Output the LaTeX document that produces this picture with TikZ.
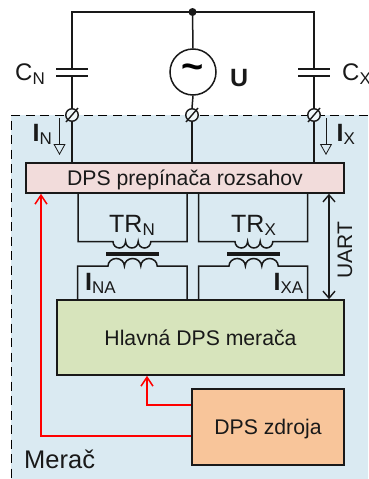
\documentclass[tikz,border=0pt]{standalone}
\usepackage{fontspec}
\setmainfont{Liberation Sans}
\usetikzlibrary{arrows.meta}
\definecolor{areablue}{HTML}{DAEAF2}
\definecolor{boxpink}{HTML}{F2DCDB}
\definecolor{boxgreen}{HTML}{D7E4BC}
\definecolor{boxorange}{HTML}{F8C59A}
\tikzset{
  x=1pt,y=-1pt,
  wire/.style={line width=1.5pt,draw=black!90,line join=miter},
  pcb/.style={draw=black!90,line width=1.6pt,inner sep=0pt,text=black!90,text height=15pt,text depth=0pt,font=\fontsize{21.2}{22}\selectfont},
  plate/.style={line width=1.6pt,draw=black!90},
  terminal/.style={circle,draw=black!90,line width=1.4pt,fill=areablue!40!white,minimum size=12.5pt,inner sep=0pt},
  lbl/.style={inner sep=0pt,text=black!90,font=\fontsize{24}{26}\selectfont},
  redwire/.style={line width=1.8pt,draw=red},
  redarrow/.style={redwire,-{Straight Barb[length=9pt,width=12pt,line width=1.5pt]}},
  uartarrow/.style={wire,{Straight Barb[length=7pt,width=12pt,line width=1.4pt]}-{Straight Barb[length=7pt,width=12pt,line width=1.4pt]}},
  currentarrow/.style={line width=0.8pt,draw=black!90,-{Triangle[open,length=11pt,width=12pt,line width=0.8pt,fill=areablue]}},
  core/.style={line width=4.5pt,draw=black!90},
}
\newcommand{\lowsub}[1]{\raisebox{-3.5pt}{\fontsize{17}{18}\selectfont #1}}
\newcommand{\cursym}{\textbf{\fontsize{25}{26}\selectfont I}}
\begin{document}
\begin{tikzpicture}
\useasboundingbox (0,0) rectangle (368,479);
% measuring area
\fill[areablue] (11,115) rectangle (368,479);
\draw[line width=0.9pt,dash pattern=on 9pt off 5.5pt] (368,115) -- (11,115) -- (11,479);
% boxes
\node[pcb,fill=boxpink,minimum width=318pt,minimum height=30pt] (sw) at (185,178) {DPS prepínača rozsahov};
\node[pcb,fill=boxgreen,minimum width=287pt,minimum height=75pt] (main) at (200.5,337.5) {Hlavná DPS merača};
\node[pcb,fill=boxorange,minimum width=152pt,minimum height=76pt] (psu) at (268,427) {DPS zdroja};
% top circuit
\node[circle,fill=black!90,minimum size=8pt,inner sep=0pt] (top) at (192.5,12) {};
\node[circle,draw=black!90,line width=1.5pt,fill=white,minimum size=46pt,inner sep=0pt,font=\fontsize{38}{38}\selectfont\bfseries] (src) at (193,72) {\raisebox{-1pt}{\char"007E}};
\node[terminal] (tl) at (72,115) {};
\node[terminal] (tm) at (192,115) {};
\node[terminal] (tr) at (314,115) {};
\foreach \t in {tl,tm,tr}{
  \draw[line width=1.4pt,draw=black!90] ([shift={(-6,7)}]\t.center) -- ([shift={(6,-7)}]\t.center);
}
\coordinate (cl1) at (72,69);
\coordinate (cl2) at (72,76);
\coordinate (cr1) at (314,69);
\coordinate (cr2) at (314,76);
\draw[plate] ([xshift=-16]cl1) -- ([xshift=16]cl1);
\draw[plate] ([xshift=-16]cl2) -- ([xshift=16]cl2);
\draw[plate] ([xshift=-16]cr1) -- ([xshift=16]cr1);
\draw[plate] ([xshift=-16]cr2) -- ([xshift=16]cr2);
\draw[wire] (cl1) -- (72,12) -- (top.center) -- (314,12) -- (cr1);
\draw[wire] (top.center) -- (src.north);
\draw[wire] (src.south) -- (tm.north);
\draw[wire] (cl2) -- (tl.north);
\draw[wire] (cr2) -- (tr.north);
\draw[wire] (tl.south) -- (tl.south |- sw.north);
\draw[wire] (tm.south) -- (tm.south |- sw.north);
\draw[wire] (tr.south) -- (tr.south |- sw.north);
% labels top
\node[lbl,anchor=base west] (cn) at (15,80.5) {C\lowsub{N}};
\node[lbl,anchor=base west] (cx) at (342,80.5) {C\lowsub{X}};
\node[lbl,anchor=base west,font=\fontsize{25}{26}\selectfont\bfseries] (u) at (230,86) {U};
% current arrows
\coordinate (in1) at (59.5,118);
\coordinate (in2) at (59.5,155);
\coordinate (ix1) at (326,118);
\coordinate (ix2) at (326,155);
\draw[currentarrow] (in1) -- (in2);
\draw[currentarrow] (ix1) -- (ix2);
\node[lbl,anchor=base west] (iN) at (32.5,141) {\cursym\lowsub{N}};
\node[lbl,anchor=base west] (iX) at (336.5,141) {\cursym\lowsub{X}};
% transformers
\draw[wire] (78,193) -- (78,241.5) -- (113,241.5)
  arc[start angle=180,end angle=0,x radius=6.3,y radius=6.5]
  arc[start angle=180,end angle=0,x radius=6.3,y radius=6.5]
  arc[start angle=180,end angle=0,x radius=6.3,y radius=6.5]
  -- (187,241.5) -- (187,193);
\draw[core] (106,254) -- (159,254);
\draw[wire] (77.5,300) -- (77.5,266) -- (108,266)
  arc[start angle=180,end angle=360,x radius=8.2,y radius=7.5]
  arc[start angle=180,end angle=360,x radius=8.2,y radius=7.5]
  arc[start angle=180,end angle=360,x radius=8.2,y radius=7.5]
  -- (187,266) -- (187,300);
\draw[wire] (198.5,193) -- (198.5,241.5) -- (235,241.5)
  arc[start angle=180,end angle=0,x radius=6.3,y radius=6.5]
  arc[start angle=180,end angle=0,x radius=6.3,y radius=6.5]
  arc[start angle=180,end angle=0,x radius=6.3,y radius=6.5]
  -- (307.5,241.5) -- (307.5,193);
\draw[core] (227,254) -- (280,254);
\draw[wire] (198.5,300) -- (198.5,266) -- (229,266)
  arc[start angle=180,end angle=360,x radius=8.2,y radius=7.5]
  arc[start angle=180,end angle=360,x radius=8.2,y radius=7.5]
  arc[start angle=180,end angle=360,x radius=8.2,y radius=7.5]
  -- (307.5,266) -- (307.5,300);
\node[lbl,anchor=base west,font=\fontsize{25}{26}\selectfont] (trn) at (109,232) {TR\lowsub{N}};
\node[lbl,anchor=base west,font=\fontsize{25}{26}\selectfont] (trx) at (231,232) {TR\lowsub{X}};
\node[lbl,anchor=base west] (ina) at (85,290) {\cursym\lowsub{NA}};
\node[lbl,anchor=base west] (ixa) at (273.5,290) {\cursym\lowsub{XA}};
% UART
\coordinate (ua) at (329,193.8);
\coordinate (ub) at (329,299.2);
\draw[uartarrow] (ua) -- (ub);
\node[lbl,rotate=90,font=\fontsize{21}{22}\selectfont] (uart) at (345,250) {UART};
% red wires
\coordinate (r1) at (147,405);
\coordinate (r2) at (41,436);
\draw[redarrow] (psu.west |- r1) -- (r1) -- (r1 |- main.south);
\draw[redarrow] (psu.west |- r2) -- (r2) -- (r2 |- sw.south);
\node[lbl,anchor=base west,font=\fontsize{25.5}{26}\selectfont] (merac) at (24,468) {Merač};
\end{tikzpicture}
\end{document}
